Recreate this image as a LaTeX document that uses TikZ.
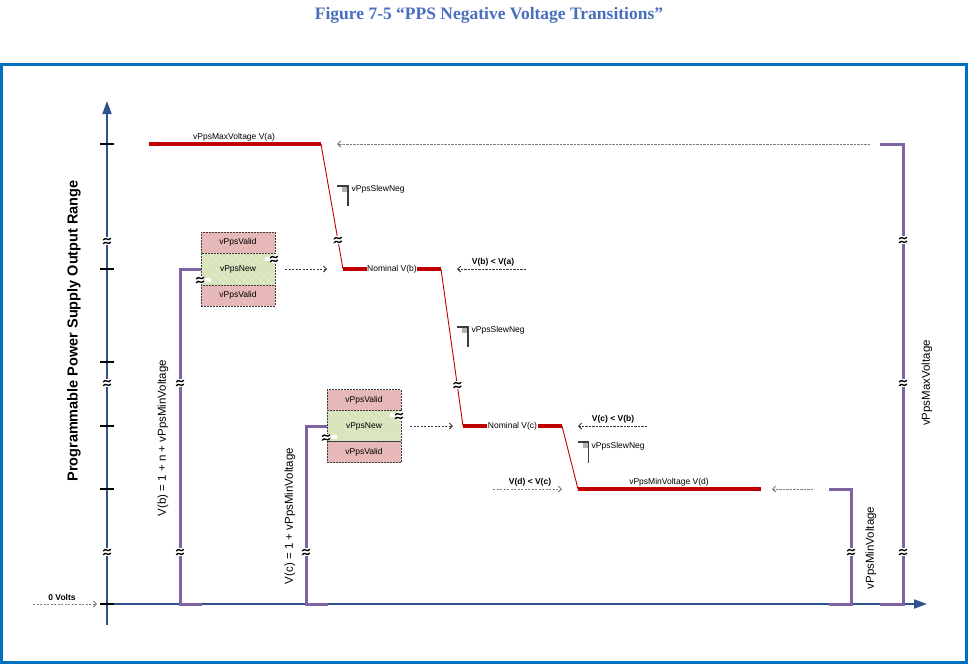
\documentclass[tikz,border=0pt]{standalone}
\usepackage{fontspec}
\setmainfont{Liberation Sans}
\newfontfamily\titlefont{Liberation Serif}
\usetikzlibrary{arrows.meta}
\definecolor{framebl}{RGB}{0,112,192}
\definecolor{titlebl}{RGB}{72,110,190}
\definecolor{axisbl}{RGB}{47,82,143}
\definecolor{pps}{RGB}{128,100,162}
\definecolor{redl}{RGB}{192,0,0}
\definecolor{pinkb}{RGB}{230,184,183}
\definecolor{greenb}{RGB}{216,228,188}
\definecolor{dgrey}{RGB}{60,60,60}
\definecolor{mgrey}{RGB}{125,125,125}
\begin{document}
\begin{tikzpicture}[x=1pt,y=-1pt,
  axis/.style={axisbl,line width=1.8pt},
  tick/.style={black,line width=1.2pt},
  ppsline/.style={pps,line width=3pt},
  redthick/.style={redl,line width=4pt},
  redthin/.style={redl,line width=0.9pt},
  brkmark/.pic={
    \fill[white] (-3.2,-3.6) rectangle (3.2,3.6);
    \foreach \d in {-1.9,1.9}
      \draw[black,line width=1.35pt,line cap=round] (-3.6,{\d+0.7}) .. controls (-1.3,{\d-2.8}) and (1.3,{\d+2.8}) .. (3.6,{\d-0.7});
  },
  lbl/.style={inner sep=0.5pt,font=\fontsize{8.5}{9}\selectfont},
  blbl/.style={inner sep=0.5pt,font=\bfseries\fontsize{8.5}{9}\selectfont},
  rlbl/.style={inner sep=0pt,rotate=90,font=\fontsize{11.5}{12}\selectfont},
  dasharr/.style={line width=0.9pt,dash pattern=on 2.2pt off 1.3pt,-{Straight Barb[length=3pt,width=6pt]}},
  grarr/.style={dasharr,mgrey},
  bkarr/.style={dasharr,dgrey},
  box/.style={draw=dgrey,line width=0.8pt,dash pattern=on 2pt off 1pt,minimum width=74pt,inner sep=0pt,font=\fontsize{8.5}{9}\selectfont},
  validbox/.style={box,fill=pinkb,minimum height=21pt},
  newbox/.style={box,fill=greenb,minimum height=31pt,
    path picture={\foreach \i in {-40,-32,...,80}
      \draw[white,opacity=0.45,line width=0.6pt] ([xshift=\i pt]path picture bounding box.north west) -- ++(40pt,-40pt);}},
  whitegap/.style={fill=white,draw=none},
  slew/.style={dgrey,line width=1.1pt}
]
\useasboundingbox (0,0) rectangle (969,665);

% title and frame
\node[text=titlebl,font=\titlefont\bfseries\fontsize{17.5}{20}\selectfont] (title) at (489,15) {Figure 7-5 “PPS Negative Voltage Transitions”};
\draw[framebl,line width=3pt] (1.5,64) rectangle (966.5,662);

% axes
\coordinate (ybot) at (107,625);
\coordinate (ytop) at (107,101);
\coordinate (xorg) at (107,604);
\coordinate (xend) at (927,604);
\draw[axis,-{Triangle[length=13pt,width=9pt]}] (ybot) -- (ytop);
\draw[axis,-{Triangle[length=13pt,width=9pt]}] (xorg) -- (xend);
\foreach \y in {144,269,362,426,489,604} \draw[tick] (100,\y) -- (114,\y);
\foreach \y in {241,383,552} \pic at (107,\y) {brkmark};

\node[rotate=90,font=\bfseries\fontsize{14.5}{15}\selectfont,inner sep=0pt] (ylab) at (74,331) {Programmable Power Supply Output Range};

% 0 volts
\node[blbl] (zero) at (62,597) {0 Volts};
\coordinate (zs) at (33,604);
\coordinate (ze) at (97,604);
\draw[grarr] (zs) -- (ze);

% purple brackets
\draw[ppsline] (202,269) -- (180,269) -- (180,604) -- (202,604);
\foreach \y in {383,552} \pic at (180,\y) {brkmark};
\node[rlbl] (lb) at (163,438) {V(b) = 1 + n + vPpsMinVoltage};

\draw[ppsline] (327,426) -- (306,426) -- (306,604) -- (328,604);
\pic at (306,552) {brkmark};
\node[rlbl] (lc) at (290,516) {V(c) = 1 + vPpsMinVoltage};

\draw[ppsline] (829,489) -- (851,489) -- (851,604) -- (829,604);
\pic at (851,552) {brkmark};
\node[rlbl] (lmin) at (871,548) {vPpsMinVoltage};

\draw[ppsline] (880,144) -- (903,144) -- (903,604) -- (880,604);
\foreach \y in {240,383,552} \pic at (903,\y) {brkmark};
\node[rlbl] (lmax) at (927,383) {vPpsMaxVoltage};

% boxes 1
\node[validbox] (v1t) at (238,242.5) {vPpsValid};
\node[newbox,minimum height=32pt] (n1) at (238,269) {vPpsNew};
\node[validbox] (v1b) at (238,295.5) {vPpsValid};
\fill[whitegap] (265,257) rectangle (270,261);
\pic at (274,259) {brkmark};
\fill[whitegap] (205,278) rectangle (211,282);
\pic at (200,280) {brkmark};

% boxes 2
\node[validbox] (v2t) at (364,400) {vPpsValid};
\node[newbox] (n2) at (364,426) {vPpsNew};
\node[validbox] (v2b) at (364,452) {vPpsValid};
\fill[whitegap] (390,413) rectangle (395,417);
\pic at (399,416) {brkmark};
\fill[whitegap] (331,435) rectangle (337,439);
\pic at (326,437.5) {brkmark};

% red trace
\coordinate (Ya) at (149,144);
\coordinate (Yb) at (321,144);
\coordinate (Sb1) at (343,269);
\coordinate (Nb2) at (441,269);
\coordinate (Sc1) at (463,426);
\coordinate (Nc2) at (562,426);
\coordinate (Sd1) at (578,489);
\coordinate (Sd2) at (761,489);
\draw[redthick] (Ya) -- (Yb);
\node[lbl] (la) at (234,137) {vPpsMaxVoltage V(a)};
\draw[redthin] (Yb) -- (Sb1);
\pic at (337.8,240) {brkmark};
\draw[redthick] (Sb1) -- (Nb2);
\node[lbl,fill=white] (nb) at (392,269) {Nominal V(b)};
\draw[redthin] (Nb2) -- (Sc1);
\pic at (457.4,385) {brkmark};
\draw[redthick] (Sc1) -- (Nc2);
\node[lbl,fill=white] (nc) at (512.5,426) {Nominal V(c)};
\draw[redthin] (Nc2) -- (Sd1);
\draw[redthick] (Sd1) -- (Sd2);
\node[lbl] (ld) at (669,482) {vPpsMinVoltage V(d)};

% slew markers
\fill[gray!60] (341.5,186) rectangle (347.5,191.5);
\draw[slew] (337,186) -- (348,186) -- (348,206);
\node[lbl,anchor=west] (s1) at (351,189) {vPpsSlewNeg};
\fill[gray!60] (462,327) rectangle (468,332.5);
\draw[slew] (457,327) -- (468,327) -- (468,347);
\node[lbl,anchor=west] (s2) at (471,330.5) {vPpsSlewNeg};
\fill[gray!60] (582.5,442) rectangle (588.5,447.5);
\draw[slew] (578,442) -- (588.5,442) -- (588.5,463);
\node[lbl,anchor=west] (s3) at (591,446) {vPpsSlewNeg};

% dashed arrows
\coordinate (a1s) at (870,144); \coordinate (a1e) at (337,144);
\draw[grarr] (a1s) -- (a1e);
\coordinate (a2s) at (285,269); \coordinate (a2e) at (327,269);
\draw[bkarr] (a2s) -- (a2e);
\coordinate (a3s) at (526,269); \coordinate (a3e) at (457,269);
\draw[bkarr] (a3s) -- (a3e);
\node[blbl] (cba) at (493,262.5) {V(b) < V(a)};
\coordinate (a4s) at (410,426); \coordinate (a4e) at (453,426);
\draw[bkarr] (a4s) -- (a4e);
\coordinate (a5s) at (647,426); \coordinate (a5e) at (578,426);
\draw[bkarr] (a5s) -- (a5e);
\node[blbl] (ccb) at (613,419) {V(c) < V(b)};
\coordinate (a6s) at (493,489); \coordinate (a6e) at (562,489);
\draw[grarr] (a6s) -- (a6e);
\node[blbl] (cdc) at (530,482) {V(d) < V(c)};
\coordinate (a7s) at (813,489); \coordinate (a7e) at (772,489);
\draw[grarr] (a7s) -- (a7e);
\end{tikzpicture}
\end{document}
